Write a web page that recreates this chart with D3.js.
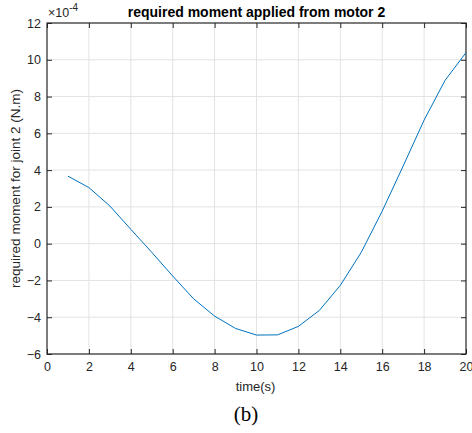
<!DOCTYPE html>
<html>
<head>
<meta charset="utf-8">
<script src="https://cdn.jsdelivr.net/npm/d3@7"></script>
<style>
  body { margin: 0; background: #fff; }
  svg { display: block; font-family: "Liberation Sans", Arial, sans-serif; }
</style>
</head>
<body>
<div id="chart"></div>
<script>
// data (moment in units of 1e-4 N.m)
const time = [1, 2, 3, 4, 5, 6, 7, 8, 9, 10, 11, 12, 13, 14, 15, 16, 17, 18, 19, 20];
const moment = [3.67, 3.05, 2.05, 0.78, -0.47, -1.76, -3.0, -3.94, -4.61, -4.97,
  -4.96, -4.5, -3.63, -2.27, -0.47, 1.77, 4.22, 6.72, 8.88, 10.39];
const xTicks = [0, 2, 4, 6, 8, 10, 12, 14, 16, 18, 20];
const yTicks = [-6, -4, -2, 0, 2, 4, 6, 8, 10, 12];

const W = 472, H = 433;
const margin = { top: 23, right: 6, bottom: 79, left: 47 },
  width = W - margin.left - margin.right,
  height = H - margin.top - margin.bottom;

const svg = d3.select("#chart")
  .append("svg")
  .attr("width", W)
  .attr("height", H);

const g = svg.append("g")
  .attr("transform", `translate(${margin.left}, ${margin.top})`);

const x = d3.scaleLinear().domain([0, 20]).range([0, width]);
const y = d3.scaleLinear().domain([-6, 12]).range([height, 0]);

// grid
g.append("g")
  .selectAll("line")
  .data(xTicks.slice(1, -1))
  .join("line")
  .attr("x1", d => x(d)).attr("x2", d => x(d))
  .attr("y1", 0).attr("y2", height)
  .attr("stroke", "#e3e3e3").attr("stroke-width", 1);
g.append("g")
  .selectAll("line")
  .data(yTicks.slice(1, -1))
  .join("line")
  .attr("y1", d => y(d)).attr("y2", d => y(d))
  .attr("x1", 0).attr("x2", width)
  .attr("stroke", "#e3e3e3").attr("stroke-width", 1);

// axes
const styleAxis = sel => {
  sel.select(".domain").remove();
  sel.selectAll("line").attr("stroke", "#262626");
  sel.selectAll("text")
    .attr("fill", "#262626")
    .style("font-size", "12.5px")
    .style("font-family", "Liberation Sans, Arial, sans-serif");
};

g.append("g")
  .attr("transform", `translate(0, ${height})`)
  .call(d3.axisBottom(x).tickValues(xTicks).tickSize(-5).tickPadding(8))
  .call(styleAxis);
g.append("g")
  .call(d3.axisTop(x).tickValues(xTicks).tickSize(-5).tickFormat(""))
  .call(styleAxis);
g.append("g")
  .call(d3.axisLeft(y).tickValues(yTicks).tickSize(-5).tickPadding(6))
  .call(styleAxis);
g.append("g")
  .attr("transform", `translate(${width}, 0)`)
  .call(d3.axisRight(y).tickValues(yTicks).tickSize(-5).tickFormat(""))
  .call(styleAxis);

// box
g.append("rect")
  .attr("width", width).attr("height", height)
  .attr("fill", "none").attr("stroke", "#262626").attr("stroke-width", 1.2);

// line
const line = d3.line()
  .x((d, i) => x(time[i]))
  .y(d => y(d));
g.append("path")
  .datum(moment)
  .attr("d", line)
  .attr("fill", "none")
  .attr("stroke", "#0072bd")
  .attr("stroke-width", 1);

// exponent
const ex = g.append("text")
  .attr("x", 1).attr("y", -6)
  .attr("fill", "#262626")
  .style("font-size", "12.5px");
ex.append("tspan").text("\u00d710");
ex.append("tspan").attr("dy", -6).style("font-size", "10px").text("-4");

// title
svg.append("text")
  .attr("x", margin.left + width / 2)
  .attr("y", 17)
  .attr("text-anchor", "middle")
  .attr("fill", "#000")
  .style("font-size", "14px")
  .style("font-weight", "bold")
  .text("required moment applied from motor 2");

// axis labels
svg.append("text")
  .attr("x", margin.left + width / 2 - 1)
  .attr("y", 391)
  .attr("text-anchor", "middle")
  .attr("fill", "#262626")
  .style("font-size", "13px")
  .text("time(s)");

svg.append("text")
  .attr("transform", `translate(20, ${margin.top + height / 2}) rotate(-90)`)
  .attr("text-anchor", "middle")
  .attr("fill", "#262626")
  .style("font-size", "13.5px")
  .text("required moment for joint 2 (N.m)");

// caption
svg.append("text")
  .attr("x", 246)
  .attr("y", 421)
  .attr("text-anchor", "middle")
  .attr("fill", "#000")
  .style("font-family", "Liberation Serif, Times New Roman, serif")
  .style("font-size", "21px")
  .text("(b)");
</script>
</body>
</html>
